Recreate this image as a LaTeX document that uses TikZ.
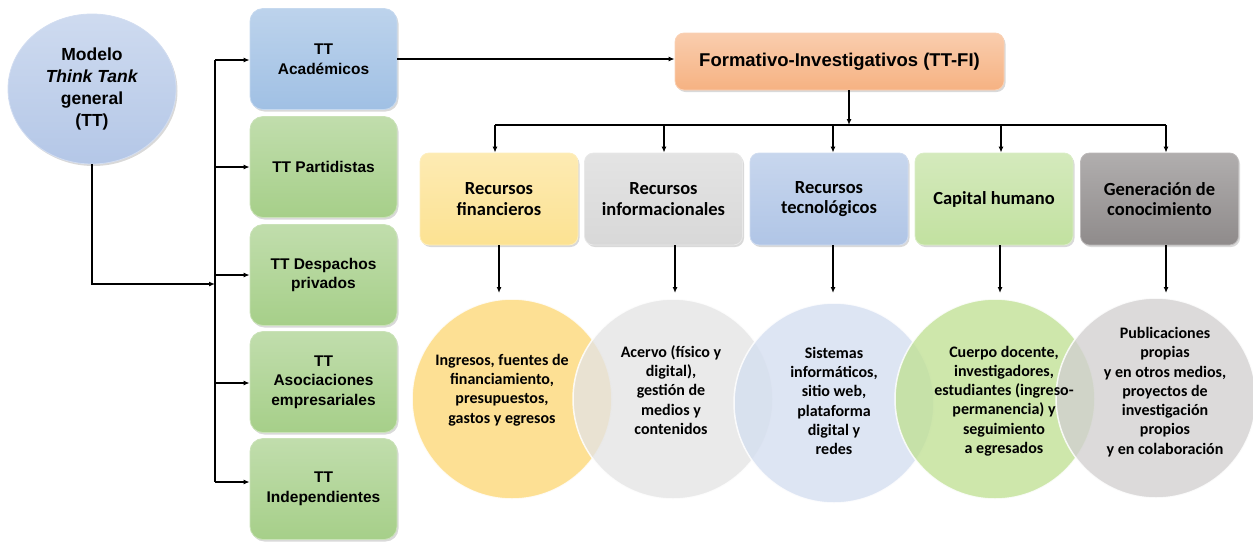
\documentclass[tikz,border=0pt]{standalone}
\usepackage{fontspec}
\setmainfont{Liberation Sans}
\newfontfamily\calib{Carlito}
\usetikzlibrary{arrows.meta,shapes.geometric,shadows,calc}

\definecolor{tcircle}{RGB}{180,199,231}
\definecolor{acad}{RGB}{160,192,228}
\definecolor{tgreen}{RGB}{166,207,137}
\definecolor{fi}{RGB}{246,178,130}
\definecolor{ryellow}{RGB}{252,226,146}
\definecolor{rlgray}{RGB}{216,216,216}
\definecolor{rblue}{RGB}{176,197,230}
\definecolor{rgreen}{RGB}{194,225,160}
\definecolor{rdgray}{RGB}{143,139,139}
\definecolor{cyellow}{RGB}{253,215,118}
\definecolor{clgray}{RGB}{228,228,228}
\definecolor{cblue}{RGB}{212,222,240}
\definecolor{cgreen}{RGB}{192,224,148}
\definecolor{cgray}{RGB}{210,208,208}

\tikzset{
  arr/.style={-{Latex[length=6pt,width=5pt]}, line width=1.2pt},
  busline/.style={line width=1.2pt},
  shad/.style={drop shadow={opacity=0.3, shadow xshift=1.5pt, shadow yshift=-2pt}},
  lbox/.style={shad, rounded corners=13pt, minimum width=147pt, minimum height=101pt,
    inner sep=2pt, align=center, font=\bfseries\fontsize{15.5}{19.5}\selectfont,
    top color=#1!70!white, bottom color=#1, draw=#1!60!white, line width=0.8pt},
  rbox/.style={shad, rounded corners=9pt, minimum width=158pt, minimum height=92pt,
    inner sep=2pt, align=center, font=\calib\bfseries\fontsize{18.5}{20.5}\selectfont,
    top color=#1!70!white, bottom color=#1, draw=#1!60!white, line width=0.8pt},
  circ/.style={circle, minimum size=200pt, inner sep=0pt, fill=#1, fill opacity=0.78,
    draw=white, draw opacity=0.85, line width=1.5pt},
  ctext/.style={align=center, inner sep=0pt, font=\calib\bfseries\fontsize{16}{19.3}\selectfont},
}

\begin{document}
\begin{tikzpicture}[x=1pt,y=-1pt]
\useasboundingbox (0,0) rectangle (1253,542);

% main circle
\node[ellipse, shad, minimum width=168pt, minimum height=150pt, inner sep=0pt,
  top color=tcircle!65!white, bottom color=tcircle, draw=tcircle!60!white, line width=0.8pt,
  align=center, font=\bfseries\fontsize{17.5}{22}\selectfont]
  (tt) at (92,89) {Modelo\\\textit{Think Tank}\\general\\(TT)};

% left boxes
\node[lbox=acad]   (acad) at (323.5,59)  {TT\\Académicos};
\node[lbox=tgreen] (part) at (323.5,167) {TT Partidistas};
\node[lbox=tgreen] (desp) at (323.5,275) {TT Despachos\\privados};
\node[lbox=tgreen] (asoc) at (323.5,382) {TT\\Asociaciones\\empresariales};
\node[lbox=tgreen] (inde) at (323.5,489) {TT\\Independientes};

% bus on the left
\coordinate (bj) at (215,284);
\coordinate (b1) at (215,60);
\coordinate (b2) at (215,167);
\coordinate (b3) at (215,275);
\coordinate (b4) at (215,383);
\coordinate (b5) at (215,482);
\draw[arr] (tt.south) |- (bj);
\draw[busline] (b1) -- (b5);
\draw[arr] (b1) -- (b1 -| acad.west);
\draw[arr] (b2) -- (b2 -| part.west);
\draw[arr] (b3) -- (b3 -| desp.west);
\draw[arr] (b4) -- (b4 -| asoc.west);
\draw[arr] (b5) -- (b5 -| inde.west);

% FI box
\node[shad, rounded corners=9pt, minimum width=329pt, minimum height=57pt, inner sep=2pt,
  top color=fi!65!white, bottom color=fi, draw=fi!60!white, line width=0.8pt,
  font=\bfseries\fontsize{18.5}{22}\selectfont]
  (fi) at (839.5,61.5) {Formativo-Investigativos (TT-FI)};
\draw[arr] (acad.east) -- (acad.east -| fi.west);

% second row boxes
\node[rbox=ryellow] (r1) at (499,199)   {Recursos\\financieros};
\node[rbox=rlgray]  (r2) at (663.5,199) {Recursos\\informacionales};
\node[rbox=rblue]   (r3) at (829,199)   {Recursos\\tecnológicos};
\node[rbox=rgreen]  (r4) at (994,199)   {Capital humano};
\node[rbox=rdgray]  (r5) at (1159.5,199){Generación de\\conocimiento};

% bus on the right
\coordinate (d1) at (495,125);
\coordinate (d2) at (664,125);
\coordinate (d3) at (833,125);
\coordinate (d4) at (1001,125);
\coordinate (d5) at (1166,125);
\draw[arr] ([xshift=9.5pt]fi.south) -- ([xshift=9.5pt]fi.south |- d1);
\draw[busline] (d1) -- (d5);
\draw[arr] (d1) -- (d1 |- r1.north);
\draw[arr] (d2) -- (d2 |- r2.north);
\draw[arr] (d3) -- (d3 |- r3.north);
\draw[arr] (d4) -- (d4 |- r4.north);
\draw[arr] (d5) -- (d5 |- r5.north);

% circles
\node[circ=cyellow] (c1) at (512,399) {};
\node[circ=clgray]  (c2) at (673,399) {};
\node[circ=cblue]   (c3) at (834,403) {};
\node[circ=cgreen]  (c4) at (995,399) {};
\node[circ=cgray]   (c5) at (1156,398) {};

% lower arrows
\coordinate (l1) at (499,293);
\coordinate (l2) at (675,293);
\coordinate (l3) at (833,293);
\coordinate (l4) at (1000,293);
\coordinate (l5) at (1166,293);
\draw[arr] (l1 |- r1.south) -- (l1);
\draw[arr] (l2 |- r2.south) -- (l2);
\draw[arr] (l3 |- r3.south) -- (l3);
\draw[arr] (l4 |- r4.south) -- (l4);
\draw[arr] (l5 |- r5.south) -- (l5);

% circle texts
\node[ctext] (t1) at (502,390) {Ingresos, fuentes de\\financiamiento,\\presupuestos,\\gastos y egresos};
\node[ctext] (t2) at (671,390) {Acervo (físico y\\digital),\\gestión de\\medios y\\contenidos};
\node[ctext] (t3) at (834,401) {Sistemas\\informáticos,\\sitio web,\\plataforma\\digital y\\redes};
\node[ctext] (t4) at (1004,401) {Cuerpo docente,\\investigadores,\\estudiantes (ingreso-\\permanencia) y\\seguimiento\\a egresados};
\node[ctext] (t5) at (1165,392) {Publicaciones\\propias\\y en otros medios,\\proyectos de\\investigación\\propios\\y en colaboración};
\end{tikzpicture}
\end{document}
